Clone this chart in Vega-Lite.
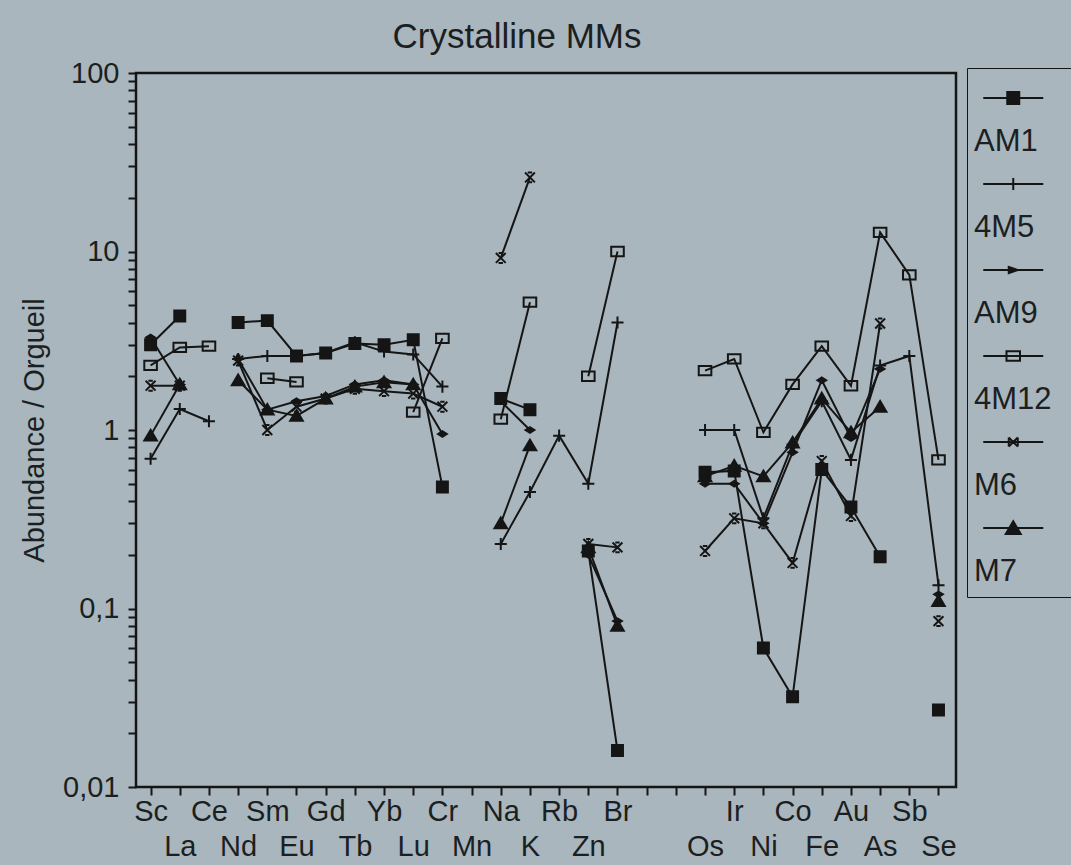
{
  "$schema": "https://vega.github.io/schema/vega-lite/v6.json",
  "width": 820,
  "height": 714,
  "autosize": "none",
  "padding": {"left": 136, "top": 73, "right": 115, "bottom": 78},
  "background": "#a9b6bd",
  "title": {"text": "Crystalline MMs", "fontSize": 35, "font": "Liberation Sans", "fontWeight": "normal", "color": "#1c1f22", "anchor": "middle", "dx": -29, "offset": 4},
  "data": {"values": [
    {"series":"AM1","el":"Sc","pos":0,"v":3.0,"seg":"a"},
    {"series":"AM1","el":"La","pos":1,"v":4.35,"seg":"a"},
    {"series":"AM1","el":"Nd","pos":3,"v":4.0,"seg":"b"},
    {"series":"AM1","el":"Sm","pos":4,"v":4.1,"seg":"b"},
    {"series":"AM1","el":"Eu","pos":5,"v":2.6,"seg":"b"},
    {"series":"AM1","el":"Gd","pos":6,"v":2.7,"seg":"b"},
    {"series":"AM1","el":"Tb","pos":7,"v":3.05,"seg":"b"},
    {"series":"AM1","el":"Yb","pos":8,"v":3.0,"seg":"b"},
    {"series":"AM1","el":"Lu","pos":9,"v":3.2,"seg":"b"},
    {"series":"AM1","el":"Cr","pos":10,"v":0.48,"seg":"b"},
    {"series":"AM1","el":"Na","pos":12,"v":1.5,"seg":"c"},
    {"series":"AM1","el":"K","pos":13,"v":1.3,"seg":"c"},
    {"series":"AM1","el":"Zn","pos":15,"v":0.21,"seg":"d"},
    {"series":"AM1","el":"Br","pos":16,"v":0.016,"seg":"d"},
    {"series":"AM1","el":"Os","pos":19,"v":0.58,"seg":"e"},
    {"series":"AM1","el":"Ir","pos":20,"v":0.59,"seg":"e"},
    {"series":"AM1","el":"Ni","pos":21,"v":0.06,"seg":"e"},
    {"series":"AM1","el":"Co","pos":22,"v":0.032,"seg":"e"},
    {"series":"AM1","el":"Fe","pos":23,"v":0.6,"seg":"e"},
    {"series":"AM1","el":"Au","pos":24,"v":0.37,"seg":"e"},
    {"series":"AM1","el":"As","pos":25,"v":0.195,"seg":"e"},
    {"series":"AM1","el":"Se","pos":27,"v":0.027,"seg":"f"},

    {"series":"4M5","el":"Sc","pos":0,"v":0.69,"seg":"a"},
    {"series":"4M5","el":"La","pos":1,"v":1.31,"seg":"a"},
    {"series":"4M5","el":"Ce","pos":2,"v":1.12,"seg":"a"},
    {"series":"4M5","el":"Nd","pos":3,"v":2.5,"seg":"b"},
    {"series":"4M5","el":"Sm","pos":4,"v":2.6,"seg":"b"},
    {"series":"4M5","el":"Eu","pos":5,"v":2.6,"seg":"b"},
    {"series":"4M5","el":"Gd","pos":6,"v":2.7,"seg":"b"},
    {"series":"4M5","el":"Tb","pos":7,"v":3.1,"seg":"b"},
    {"series":"4M5","el":"Yb","pos":8,"v":2.75,"seg":"b"},
    {"series":"4M5","el":"Lu","pos":9,"v":2.65,"seg":"b"},
    {"series":"4M5","el":"Cr","pos":10,"v":1.75,"seg":"b"},
    {"series":"4M5","el":"Na","pos":12,"v":0.23,"seg":"c"},
    {"series":"4M5","el":"K","pos":13,"v":0.45,"seg":"c"},
    {"series":"4M5","el":"Rb","pos":14,"v":0.93,"seg":"c"},
    {"series":"4M5","el":"Zn","pos":15,"v":0.5,"seg":"c"},
    {"series":"4M5","el":"Br","pos":16,"v":4.0,"seg":"c"},
    {"series":"4M5","el":"Os","pos":19,"v":1.0,"seg":"e"},
    {"series":"4M5","el":"Ir","pos":20,"v":1.0,"seg":"e"},
    {"series":"4M5","el":"Ni","pos":21,"v":0.32,"seg":"e"},
    {"series":"4M5","el":"Co","pos":22,"v":0.83,"seg":"e"},
    {"series":"4M5","el":"Fe","pos":23,"v":1.45,"seg":"e"},
    {"series":"4M5","el":"Au","pos":24,"v":0.68,"seg":"e"},
    {"series":"4M5","el":"As","pos":25,"v":2.3,"seg":"e"},
    {"series":"4M5","el":"Sb","pos":26,"v":2.6,"seg":"e"},
    {"series":"4M5","el":"Se","pos":27,"v":0.135,"seg":"e"},

    {"series":"AM9","el":"Sc","pos":0,"v":3.3,"seg":"a"},
    {"series":"AM9","el":"La","pos":1,"v":1.8,"seg":"a"},
    {"series":"AM9","el":"Nd","pos":3,"v":2.5,"seg":"b"},
    {"series":"AM9","el":"Sm","pos":4,"v":1.3,"seg":"b"},
    {"series":"AM9","el":"Eu","pos":5,"v":1.45,"seg":"b"},
    {"series":"AM9","el":"Gd","pos":6,"v":1.55,"seg":"b"},
    {"series":"AM9","el":"Tb","pos":7,"v":1.8,"seg":"b"},
    {"series":"AM9","el":"Yb","pos":8,"v":1.9,"seg":"b"},
    {"series":"AM9","el":"Lu","pos":9,"v":1.8,"seg":"b"},
    {"series":"AM9","el":"Cr","pos":10,"v":0.95,"seg":"b"},
    {"series":"AM9","el":"Na","pos":12,"v":1.45,"seg":"c"},
    {"series":"AM9","el":"K","pos":13,"v":1.0,"seg":"c"},
    {"series":"AM9","el":"Zn","pos":15,"v":0.2,"seg":"d"},
    {"series":"AM9","el":"Br","pos":16,"v":0.085,"seg":"d"},
    {"series":"AM9","el":"Os","pos":19,"v":0.5,"seg":"e"},
    {"series":"AM9","el":"Ir","pos":20,"v":0.5,"seg":"e"},
    {"series":"AM9","el":"Ni","pos":21,"v":0.3,"seg":"e"},
    {"series":"AM9","el":"Co","pos":22,"v":0.75,"seg":"e"},
    {"series":"AM9","el":"Fe","pos":23,"v":1.9,"seg":"e"},
    {"series":"AM9","el":"Au","pos":24,"v":0.9,"seg":"e"},
    {"series":"AM9","el":"As","pos":25,"v":2.2,"seg":"e"},
    {"series":"AM9","el":"Se","pos":27,"v":0.12,"seg":"f"},

    {"series":"4M12","el":"Sc","pos":0,"v":2.3,"seg":"a"},
    {"series":"4M12","el":"La","pos":1,"v":2.9,"seg":"a"},
    {"series":"4M12","el":"Ce","pos":2,"v":2.95,"seg":"a"},
    {"series":"4M12","el":"Sm","pos":4,"v":1.95,"seg":"b"},
    {"series":"4M12","el":"Eu","pos":5,"v":1.86,"seg":"b"},
    {"series":"4M12","el":"Lu","pos":9,"v":1.26,"seg":"g"},
    {"series":"4M12","el":"Cr","pos":10,"v":3.26,"seg":"g"},
    {"series":"4M12","el":"Na","pos":12,"v":1.15,"seg":"c"},
    {"series":"4M12","el":"K","pos":13,"v":5.2,"seg":"c"},
    {"series":"4M12","el":"Zn","pos":15,"v":2.0,"seg":"d"},
    {"series":"4M12","el":"Br","pos":16,"v":10,"seg":"d"},
    {"series":"4M12","el":"Os","pos":19,"v":2.15,"seg":"e"},
    {"series":"4M12","el":"Ir","pos":20,"v":2.5,"seg":"e"},
    {"series":"4M12","el":"Ni","pos":21,"v":0.97,"seg":"e"},
    {"series":"4M12","el":"Co","pos":22,"v":1.8,"seg":"e"},
    {"series":"4M12","el":"Fe","pos":23,"v":2.95,"seg":"e"},
    {"series":"4M12","el":"Au","pos":24,"v":1.77,"seg":"e"},
    {"series":"4M12","el":"As","pos":25,"v":12.8,"seg":"e"},
    {"series":"4M12","el":"Sb","pos":26,"v":7.4,"seg":"e"},
    {"series":"4M12","el":"Se","pos":27,"v":0.68,"seg":"e"},

    {"series":"M6","el":"Sc","pos":0,"v":1.77,"seg":"a"},
    {"series":"M6","el":"La","pos":1,"v":1.77,"seg":"a"},
    {"series":"M6","el":"Nd","pos":3,"v":2.45,"seg":"b"},
    {"series":"M6","el":"Sm","pos":4,"v":1.0,"seg":"b"},
    {"series":"M6","el":"Eu","pos":5,"v":1.35,"seg":"b"},
    {"series":"M6","el":"Gd","pos":6,"v":1.5,"seg":"b"},
    {"series":"M6","el":"Tb","pos":7,"v":1.7,"seg":"b"},
    {"series":"M6","el":"Yb","pos":8,"v":1.65,"seg":"b"},
    {"series":"M6","el":"Lu","pos":9,"v":1.6,"seg":"b"},
    {"series":"M6","el":"Cr","pos":10,"v":1.35,"seg":"b"},
    {"series":"M6","el":"Na","pos":12,"v":9.2,"seg":"c"},
    {"series":"M6","el":"K","pos":13,"v":26,"seg":"c"},
    {"series":"M6","el":"Zn","pos":15,"v":0.23,"seg":"d"},
    {"series":"M6","el":"Br","pos":16,"v":0.22,"seg":"d"},
    {"series":"M6","el":"Os","pos":19,"v":0.21,"seg":"e"},
    {"series":"M6","el":"Ir","pos":20,"v":0.32,"seg":"e"},
    {"series":"M6","el":"Ni","pos":21,"v":0.3,"seg":"e"},
    {"series":"M6","el":"Co","pos":22,"v":0.18,"seg":"e"},
    {"series":"M6","el":"Fe","pos":23,"v":0.67,"seg":"e"},
    {"series":"M6","el":"Au","pos":24,"v":0.33,"seg":"e"},
    {"series":"M6","el":"As","pos":25,"v":3.95,"seg":"e"},
    {"series":"M6","el":"Se","pos":27,"v":0.085,"seg":"f"},

    {"series":"M7","el":"Sc","pos":0,"v":0.93,"seg":"a"},
    {"series":"M7","el":"La","pos":1,"v":1.8,"seg":"a"},
    {"series":"M7","el":"Nd","pos":3,"v":1.9,"seg":"b"},
    {"series":"M7","el":"Sm","pos":4,"v":1.3,"seg":"b"},
    {"series":"M7","el":"Eu","pos":5,"v":1.2,"seg":"b"},
    {"series":"M7","el":"Gd","pos":6,"v":1.5,"seg":"b"},
    {"series":"M7","el":"Tb","pos":7,"v":1.75,"seg":"b"},
    {"series":"M7","el":"Yb","pos":8,"v":1.85,"seg":"b"},
    {"series":"M7","el":"Lu","pos":9,"v":1.8,"seg":"b"},
    {"series":"M7","el":"Na","pos":12,"v":0.3,"seg":"c"},
    {"series":"M7","el":"K","pos":13,"v":0.82,"seg":"c"},
    {"series":"M7","el":"Zn","pos":15,"v":0.22,"seg":"d"},
    {"series":"M7","el":"Br","pos":16,"v":0.08,"seg":"d"},
    {"series":"M7","el":"Os","pos":19,"v":0.55,"seg":"e"},
    {"series":"M7","el":"Ir","pos":20,"v":0.63,"seg":"e"},
    {"series":"M7","el":"Ni","pos":21,"v":0.55,"seg":"e"},
    {"series":"M7","el":"Co","pos":22,"v":0.85,"seg":"e"},
    {"series":"M7","el":"Fe","pos":23,"v":1.5,"seg":"e"},
    {"series":"M7","el":"Au","pos":24,"v":0.97,"seg":"e"},
    {"series":"M7","el":"As","pos":25,"v":1.35,"seg":"e"},
    {"series":"M7","el":"Se","pos":27,"v":0.11,"seg":"f"}
  ]},
  "encoding": {
    "x": {
      "field": "pos", "type": "quantitative",
      "scale": {"domain": [-0.5, 27.6], "nice": false, "zero": false},
      "axis": {
        "title": null, "grid": false, "domain": false,
        "values": [0,1,2,3,4,5,6,7,8,9,10,11,12,13,14,15,16,17,18,19,20,21,22,23,24,25,26,27],
        "labelExpr": "['Sc','La','Ce','Nd','Sm','Eu','Gd','Tb','Yb','Lu','Cr','Mn','Na','K','Rb','Zn','Br','','','Os','Ir','Ni','Co','Fe','Au','As','Sb','Se'][datum.value]",
        "labelPadding": {"condition": {"test": "datum.value % 2 == 1", "value": 37}, "value": 2},
        "labelBaseline": "top",
        "tickSize": 8, "tickWidth": 2, "tickColor": "#151515",
        "labelFont": "Liberation Sans", "labelFontSize": 29, "labelColor": "#1c1f22",
        "labelOverlap": false, "labelFlush": false, "labelBound": false
      }
    },
    "y": {
      "field": "v", "type": "quantitative",
      "scale": {"type": "log", "domain": [0.01, 100], "nice": false},
      "axis": {
        "title": "Abundance / Orgueil", "titleFont": "Liberation Sans", "titleFontSize": 29, "titleFontWeight": "normal", "titleColor": "#1c1f22", "titlePadding": 13,
        "grid": false, "domain": false,
        "values": [0.01,0.02,0.03,0.04,0.05,0.06,0.07,0.08,0.09,0.1,0.2,0.3,0.4,0.5,0.6,0.7,0.8,0.9,1,2,3,4,5,6,7,8,9,10,20,30,40,50,60,70,80,90,100],
        "labelExpr": "datum.value == 100 ? '100' : datum.value == 10 ? '10' : datum.value == 1 ? '1' : datum.value == 0.1 ? '0,1' : datum.value == 0.01 ? '0,01' : ''",
        "tickSize": 8, "tickWidth": 2, "tickColor": "#151515", "labelPadding": 9,
        "labelFont": "Liberation Sans", "labelFontSize": 29, "labelColor": "#1c1f22",
        "labelOverlap": false, "labelFlush": false, "labelBound": false
      }
    }
  },
  "layer": [
    {
      "mark": {"type": "line", "color": "#151515", "strokeWidth": 2},
      "encoding": {
        "detail": [{"field": "series"}, {"field": "seg"}],
        "order": {"field": "pos", "type": "quantitative"}
      }
    },
    {
      "mark": {"type": "point", "size": 120, "strokeWidth": 2, "stroke": "#151515", "opacity": 1},
      "encoding": {
        "shape": {
          "field": "series", "type": "nominal",
          "scale": {
            "domain": ["AM1","4M5","AM9","4M12","M6","M7"],
            "range": [
              "M-1,-1H1V1H-1Z",
              "M-1.1,0H1.1M0,-1.1V1.1",
              "M-0.8,0L0,-0.5L0.8,0L0,0.5Z",
              "M-1.15,-0.85H1.15V0.85H-1.15Z",
              "M-0.9,-0.9L0.9,0.9M-0.9,0.9L0.9,-0.9M-0.4,-0.9H0.4M-0.4,0.9H0.4",
              "M0,-1.05L1.15,0.9H-1.15Z"
            ]
          },
          "legend": null
        },
        "fill": {
          "field": "series", "type": "nominal",
          "scale": {"domain": ["AM1","4M5","AM9","4M12","M6","M7"], "range": ["#151515","transparent","#151515","transparent","transparent","#151515"]},
          "legend": null
        }
      }
    },
    {
      "transform": [{"filter": "false"}],
      "mark": {"type": "point", "size": 900, "strokeWidth": 2, "stroke": "#151515", "filled": false, "opacity": 1},
      "encoding": {
        "shape": {
          "field": "series", "type": "nominal",
          "scale": {
            "domain": ["AM1","4M5","AM9","4M12","M6","M7"],
            "range": [
              "M-0.65,0.27H3.35M0.95,-0.13H1.75V0.67H0.95ZM0.95,-0.03H1.75M0.95,0.07H1.75M0.95,0.17H1.75M0.95,0.27H1.75M0.95,0.37H1.75M0.95,0.47H1.75M0.95,0.57H1.75M5.3,0.27",
              "M-0.65,0.27H3.35M1.35,-0.13V0.67M5.3,0.27",
              "M-0.65,0.27H3.35M1.05,0.07L1.65,0.27L1.05,0.47ZM1.1,0.17H1.4M1.1,0.37H1.4M5.3,0.27",
              "M-0.65,0.27H3.35M0.9,-0.05H1.8V0.59H0.9ZM5.3,0.27",
              "M-0.65,0.27H3.35M1.05,-0.03L1.65,0.57M1.05,0.57L1.65,-0.03M1.05,-0.03V0.57M1.65,-0.03V0.57M5.3,0.27",
              "M-0.65,0.27H3.35M1.35,-0.18L1.85,0.67H0.85ZM1.26,-0.03H1.44M1.2,0.07H1.5M1.14,0.17H1.56M1.09,0.27H1.61M1.03,0.37H1.67M0.97,0.47H1.73M0.91,0.57H1.79M5.3,0.27"
            ]
          },
          "legend": {
            "title": null,
            "orient": "none", "legendX": 831, "legendY": -5,
            "direction": "vertical",
            "symbolSize": 900,
            "symbolStrokeWidth": 2,
            "symbolOpacity": 1,
            "rowPadding": 7,
            "padding": 10,
            "strokeColor": "#151515",
            "labelFont": "Liberation Sans", "labelFontSize": 31, "labelColor": "#1c1f22",
            "labelBaseline": "top",
            "labelOffset": -35,
            "labelExpr": "['', datum.label]"
          }
        }
      }
    }
  ],
  "resolve": {"scale": {"shape": "independent", "fill": "independent"}},
  "config": {
    "view": {"stroke": "#151515", "strokeWidth": 2.5},
    "font": "Liberation Sans"
  }
}
